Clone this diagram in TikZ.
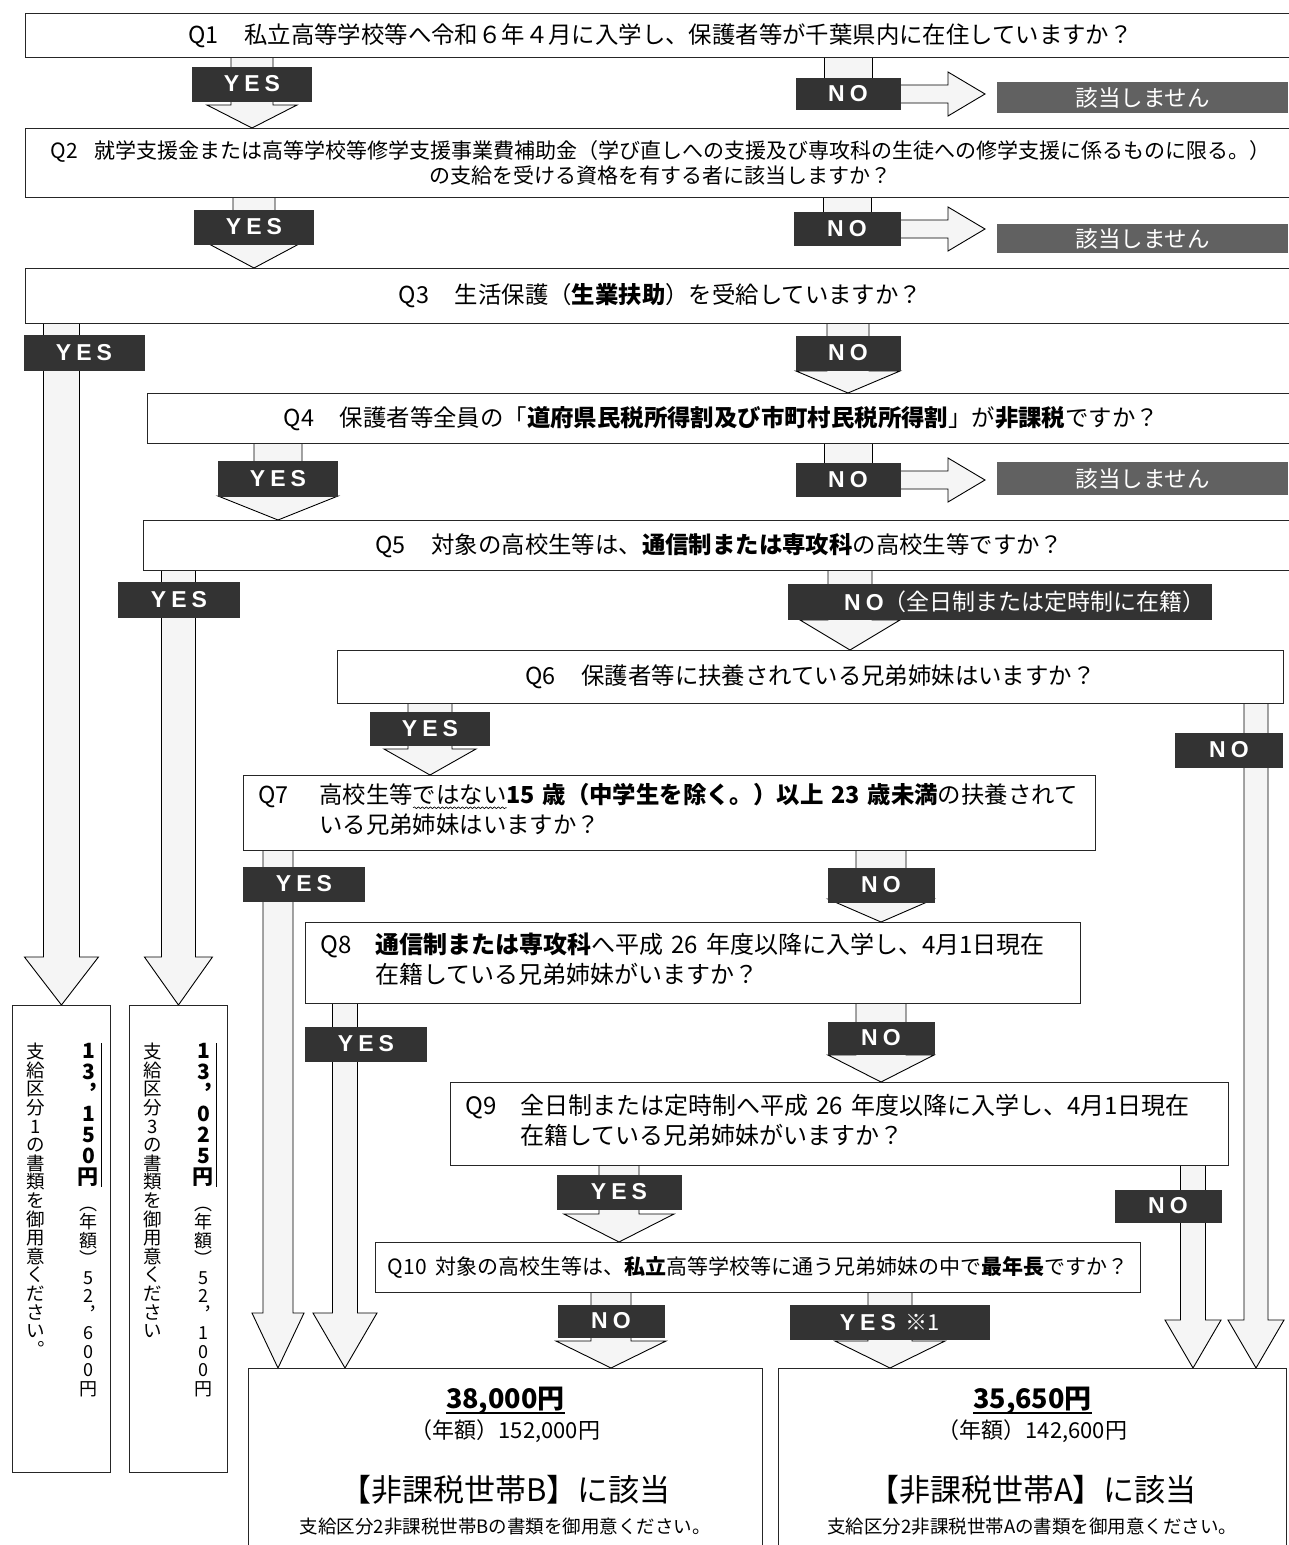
\documentclass[tikz,border=0pt]{standalone}
\usepackage{fontspec}
\setmainfont{Noto Sans CJK JP}
\newfontfamily\yesfont[LetterSpace=22]{Liberation Sans}
\usetikzlibrary{calc,backgrounds,positioning,decorations.pathmorphing}
\tikzset{
  qbox/.style = {draw=black!85, line width=0.9pt, fill=white, anchor=north west,
    inner sep=0pt, font=\fontsize{23.4}{30}\selectfont},
  lbl/.style = {fill=black!80, text=white, inner sep=0pt,
    font=\yesfont\bfseries\fontsize{23}{23}\selectfont},% YES / NO
  na/.style = {fill=black!62, text=white, anchor=north west, inner sep=0pt,
    minimum width=291pt, font=\fontsize{22.5}{22.5}\selectfont},% not applicable
  pay/.style = {draw=black!85, line width=0.9pt, anchor=north west, inner sep=0pt},
  vt/.style = {anchor=north, inner sep=0pt, align=center},% vertical text
  amt/.style = {inner sep=0pt, font=\bfseries\fontsize{27}{27}\selectfont},% amount
  blk/.style = {draw=black, line width=0.9pt, fill=black!4}% hollow arrow
}
% hollow arrow down: shaft half, head half, head length, from, tip
\newcommand\blkdown[5]{\draw[blk] let \p1=(#4), \p2=(#5) in
  (\x2-#1pt,\y1) -- (\x2-#1pt,\y2+#3pt) -- (\x2-#2pt,\y2+#3pt) -- (\x2,\y2)
  -- (\x2+#2pt,\y2+#3pt) -- (\x2+#1pt,\y2+#3pt) -- (\x2+#1pt,\y1);}
% hollow arrow right
\newcommand\blkright[5]{\draw[blk] let \p1=(#4), \p2=(#5) in
  (\x1,\y1+#1pt) -- (\x2-#3pt,\y1+#1pt) -- (\x2-#3pt,\y1+#2pt) -- (\x2,\y1)
  -- (\x2-#3pt,\y1-#2pt) -- (\x2-#3pt,\y1-#1pt) -- (\x1,\y1-#1pt);}
% wavy underline
\newsavebox\wavebox
\newcommand\wavy[1]{\sbox\wavebox{#1}\rlap{\raisebox{-5pt}{\tikz\draw[line width=0.6pt,
  decorate, decoration={snake, amplitude=0.9pt, segment length=4pt}] (0pt,0pt) -- (\wd\wavebox,0pt);}}\usebox\wavebox}

\begin{document}
\begin{tikzpicture}[x=1pt,y=-1pt]
\useasboundingbox (0,0) rectangle (1288,1545);

% questions
\node[qbox, minimum width=1270pt, minimum height=44pt] (q1) at (25,13)
  {Q1\hspace{1.1em}私立高等学校等へ令和６年４月に入学し、保護者等が千葉県内に在住していますか？};
\node[qbox, minimum width=1270pt, minimum height=69pt, align=center,
  font=\fontsize{21}{25}\selectfont] (q2) at (25,128)
  {Q2\hspace{0.8em}就学支援金または高等学校等修学支援事業費補助金（学び直しへの支援及び専攻科の生徒への修学支援に係るものに限る。）\\の支給を受ける資格を有する者に該当しますか？};
\node[qbox, minimum width=1270pt, minimum height=55pt] (q3) at (25,268)
  {Q3\hspace{1.1em}生活保護（\textbf{生業扶助}）を受給していますか？};
\node[qbox, minimum width=1148pt, minimum height=50pt] (q4) at (147,393)
  {Q4\hspace{1.1em}保護者等全員の「\textbf{道府県民税所得割及び市町村民税所得割}」が\textbf{非課税}ですか？};
\node[qbox, minimum width=1152pt, minimum height=50pt] (q5) at (143,520)
  {Q5\hspace{1.1em}対象の高校生等は、\textbf{通信制または専攻科}の高校生等ですか？};
\node[qbox, minimum width=946pt, minimum height=53pt] (q6) at (337,650)
  {Q6\hspace{1.1em}保護者等に扶養されている兄弟姉妹はいますか？};
\node[qbox, minimum height=75pt, text width=822pt, inner xsep=15pt, align=left] (q7) at (243,775)
  {\begin{tabular}{@{}l@{\hspace{1.3em}}l@{}}Q7 & 高校生等\wavy{ではない}\textbf{15 歳（中学生を除く。）以上 23 歳未満}の扶養されて\\
   & いる兄弟姉妹はいますか？\end{tabular}};
\node[qbox, minimum height=81pt, text width=745pt, inner xsep=15pt, align=left,
  font=\fontsize{24}{30}\selectfont] (q8) at (305,922)
  {\begin{tabular}{@{}l@{\hspace{1em}}l@{}}Q8 & \textbf{通信制または専攻科}へ平成 26 年度以降に入学し、4月1日現在\\
   & 在籍している兄弟姉妹がいますか？\end{tabular}};
\node[qbox, minimum height=83pt, text width=748pt, inner xsep=15pt, align=left,
  font=\fontsize{24}{30}\selectfont] (q9) at (450,1082)
  {\begin{tabular}{@{}l@{\hspace{1em}}l@{}}Q9 & 全日制または定時制へ平成 26 年度以降に入学し、4月1日現在\\
   & 在籍している兄弟姉妹がいますか？\end{tabular}};
\node[qbox, minimum width=765pt, minimum height=50pt, font=\fontsize{21}{25}\selectfont] (q10) at (375,1242)
  {Q10\hspace{0.4em}対象の高校生等は、\textbf{私立}高等学校等に通う兄弟姉妹の中で\textbf{最年長}ですか？};

% answers
\node[lbl, minimum width=120pt, minimum height=35pt] (yes1) at (252,84) {YES};
\node[lbl, minimum width=105pt, minimum height=32pt] (no1) at (848,94) {NO};
\node[na, minimum height=31pt] (na1) at (997,82) {該当しません};
\node[lbl, minimum width=120pt, minimum height=35pt] (yes2) at (254,227) {YES};
\node[lbl, minimum width=107pt, minimum height=34pt] (no2) at (847,229) {NO};
\node[na, minimum height=29pt] (na2) at (997,224) {該当しません};
\node[lbl, minimum width=121pt, minimum height=36pt] (yes3) at (84,353) {YES};
\node[lbl, minimum width=105pt, minimum height=35pt] (no3) at (848,353) {NO};
\node[lbl, minimum width=120pt, minimum height=36pt] (yes4) at (278,479) {YES};
\node[lbl, minimum width=105pt, minimum height=34pt] (no4) at (848,480) {NO};
\node[na, minimum height=33pt] (na4) at (997,462) {該当しません};
\node[lbl, minimum width=122pt, minimum height=36pt] (yes5) at (179,600) {YES};
\node[lbl, minimum width=424pt, minimum height=36pt] (no5) at (1000,602)
  {\hspace*{50pt}NO{\normalfont\fontsize{23}{23}\selectfont （全日制または定時制に在籍）}};
\node[lbl, minimum width=120pt, minimum height=34pt] (yes6) at (430,729) {YES};
\node[lbl, minimum width=108pt, minimum height=35pt] (no6) at (1229,750) {NO};
\node[lbl, minimum width=122pt, minimum height=35pt] (yes7) at (304,884) {YES};
\node[lbl, minimum width=107pt, minimum height=35pt] (no7) at (881,885) {NO};
\node[lbl, minimum width=122pt, minimum height=35pt] (yes8) at (366,1044) {YES};
\node[lbl, minimum width=107pt, minimum height=33pt] (no8) at (881,1038) {NO};
\node[lbl, minimum width=125pt, minimum height=35pt] (yes9) at (619,1192) {YES};
\node[lbl, minimum width=107pt, minimum height=33pt] (no9) at (1168,1206) {NO};
\node[lbl, minimum width=107pt, minimum height=33pt] (no10) at (611,1321) {NO};
\node[lbl, minimum width=200pt, minimum height=35pt] (yes10) at (890,1322)
  {YES\hspace{10pt}{\normalfont\fontsize{22}{22}\selectfont ※1}};

% results
\node[pay, minimum width=98pt, minimum height=467pt] (pay1) at (12,1005) {};
\node[pay, minimum width=98pt, minimum height=467pt] (pay2) at (129,1005) {};
\node[pay, minimum width=514pt, minimum height=190pt] (boxB) at (248,1368) {};
\node[pay, minimum width=508pt, minimum height=190pt] (boxA) at (778,1368) {};

\node[vt, font=\bfseries\fontsize{21}{21}\selectfont] (amt1) at ([xshift=27pt,yshift=-38pt]pay1.north)
  {1\\3\\︐\\1\\5\\0\\円};
\node[vt, font=\fontsize{18}{18.5}\selectfont, below=20pt of amt1] (yr1)
  {︵\\年\\額\\︶\\5\\2\\︐\\6\\0\\0\\円};
\node[vt, font=\fontsize{18.5}{18.6}\selectfont] (doc1) at ([xshift=-26pt,yshift=-38pt]pay1.north)
  {支\\給\\区\\分\\1\\の\\書\\類\\を\\御\\用\\意\\く\\だ\\さ\\い\\︒};
\node[vt, font=\bfseries\fontsize{21}{21}\selectfont] (amt2) at ([xshift=25pt,yshift=-38pt]pay2.north)
  {1\\3\\︐\\0\\2\\5\\円};
\node[vt, font=\fontsize{18}{18.5}\selectfont, below=20pt of amt2] (yr2)
  {︵\\年\\額\\︶\\5\\2\\︐\\1\\0\\0\\円};
\node[vt, font=\fontsize{18.5}{18.6}\selectfont] (doc2) at ([xshift=-26pt,yshift=-38pt]pay2.north)
  {支\\給\\区\\分\\3\\の\\書\\類\\を\\御\\用\\意\\く\\だ\\さ\\い};
\draw[line width=1pt] ([xshift=2pt]amt1.north east) -- ([xshift=2pt]amt1.south east);
\draw[line width=1pt] ([xshift=2pt]amt2.north east) -- ([xshift=2pt]amt2.south east);

\node[amt] (amtB) at ([yshift=-33pt]boxB.north) {38,000円};
\node[font=\fontsize{22}{22}\selectfont] (yrB) at ([yshift=-63pt]boxB.north) {（年額）152,000円};
\node[font=\fontsize{31}{31}\selectfont] (hiB) at ([yshift=-122pt]boxB.north) {【非課税世帯B】に該当};
\node[font=\fontsize{18.5}{18.5}\selectfont] (docB) at ([yshift=-159pt]boxB.north) {支給区分2非課税世帯Bの書類を御用意ください。};
\node[amt] (amtA) at ([yshift=-33pt]boxA.north) {35,650円};
\node[font=\fontsize{22}{22}\selectfont] (yrA) at ([yshift=-63pt]boxA.north) {（年額）142,600円};
\node[font=\fontsize{31}{31}\selectfont] (hiA) at ([yshift=-122pt]boxA.north) {【非課税世帯A】に該当};
\node[font=\fontsize{18.5}{18.5}\selectfont] (docA) at ([yshift=-159pt]boxA.north) {支給区分2非課税世帯Aの書類を御用意ください。};
\draw[line width=1.8pt] ($(amtB.base west)+(0pt,-4pt)$) -- ($(amtB.base east)+(0pt,-4pt)$);
\draw[line width=1.8pt] ($(amtA.base west)+(0pt,-4pt)$) -- ($(amtA.base east)+(0pt,-4pt)$);

% arrow columns
\coordinate (c5n) at (850,0);
\coordinate (c6n) at (1256,0);
\coordinate (c7y) at (278,0);
\coordinate (c8y) at (345,0);
\coordinate (c9n) at (1193,0);

\begin{scope}[on background layer]
\fill[white] (0,0) rectangle (1288,1545);
\blkdown{21}{45}{23}{q1.south -| yes1}{q2.north -| yes1}
\blkdown{24}{24}{0}{q1.south -| no1}{no1.center}
\blkright{9}{22}{37}{no1.east}{[xshift=-12pt]na1.west}
\blkdown{21}{45}{24}{q2.south -| yes2}{q3.north -| yes2}
\blkdown{24}{24}{0}{q2.south -| no2}{no2.center}
\blkright{9}{22}{37}{no2.east}{[xshift=-12pt]na2.west}
\blkdown{18}{37}{48}{q3.south -| pay1.north}{pay1.north}
\blkdown{21}{52}{22}{q3.south -| no3}{q4.north -| no3}
\blkdown{24}{60}{24}{q4.south -| yes4}{q5.north -| yes4}
\blkdown{24}{24}{0}{q4.south -| no4}{no4.center}
\blkright{9}{22}{37}{no4.east}{[xshift=-12pt]na4.west}
\blkdown{17}{34}{48}{q5.south -| pay2.north}{pay2.north}
\blkdown{22}{50}{30}{q5.south -| c5n}{q6.north -| c5n}
\blkdown{22}{46}{26}{q6.south -| yes6}{q7.north -| yes6}
\blkdown{12}{28}{48}{q6.south -| c6n}{boxA.north -| c6n}
\blkdown{15}{26}{55}{q7.south -| c7y}{boxB.north -| c7y}
\blkdown{25}{53}{23}{q7.south -| no7}{q8.north -| no7}
\blkdown{12.5}{32}{55}{q8.south -| c8y}{boxB.north -| c8y}
\blkdown{25}{53}{27}{q8.south -| no8}{q9.north -| no8}
\blkdown{20}{55}{28}{q9.south -| yes9}{q10.north -| yes9}
\blkdown{12.5}{28}{48}{q9.south -| c9n}{boxA.north -| c9n}
\blkdown{20}{55}{27}{q10.south -| no10}{boxB.north -| no10}
\blkdown{22}{55}{27}{q10.south -| yes10}{boxA.north -| yes10}
\end{scope}
\end{tikzpicture}
\end{document}
